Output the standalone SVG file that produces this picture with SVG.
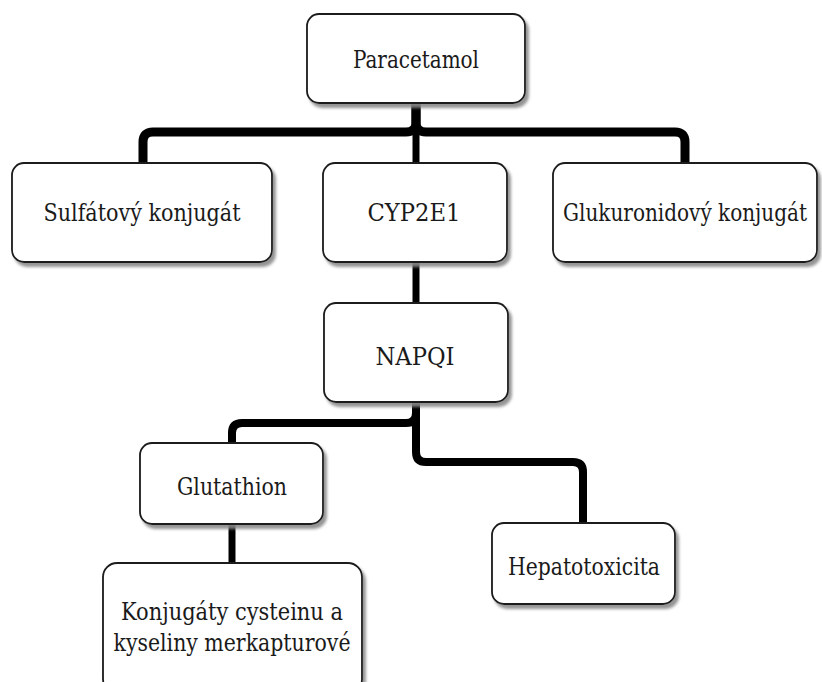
<svg xmlns="http://www.w3.org/2000/svg" width="822" height="682" viewBox="0 0 822 682">
<style>
.box{fill:#fff;stroke:#1a1a1a;stroke-width:1.8;filter:url(#sh)}
.lbl{font-family:'DejaVu Serif Condensed','DejaVu Serif',serif;font-stretch:condensed;font-size:24px;fill:#1a1a1a;text-anchor:middle}
.con{fill:none;stroke:#000;stroke-width:8;stroke-linejoin:round}
</style>
<defs>
<filter id="sh" x="-10%" y="-10%" width="130%" height="130%">
<feDropShadow dx="3" dy="4" stdDeviation="1.6" flood-color="#888" flood-opacity="0.9"/>
</filter>
</defs>
<rect width="822" height="682" fill="#fff"/>
<g id="connectors">
<path class="con" d="M416,103 V122 Q416,132 406,132 H153 Q143,132 143,142 V163" style="stroke-width:9"/>
<path class="con" d="M416,103 V122 Q416,132 426,132 H675 Q685,132 685,142 V163" style="stroke-width:9"/>
<path class="con" d="M416,103 V163" style="stroke-width:7"/>
<path class="con" d="M416,262 V303" style="stroke-width:7"/>
<path class="con" d="M416,400 V413 Q416,423 406,423 H242 Q232,423 232,433 V443"/>
<path class="con" d="M416,400 V452 Q416,462 426,462 H573 Q583,462 583,472 V523"/>
<path class="con" d="M232,525 V563" style="stroke-width:7"/>
</g>
<g id="paracetamol">
<rect class="box" x="307" y="14" width="218" height="89" rx="12"/>
<text class="lbl" x="416" y="68" textLength="126" lengthAdjust="spacingAndGlyphs">Paracetamol</text>
</g>
<g id="sulfatovy">
<rect class="box" x="12" y="163" width="260" height="99" rx="12"/>
<text class="lbl" x="142" y="221" textLength="197" lengthAdjust="spacingAndGlyphs">Sulfátový konjugát</text>
</g>
<g id="cyp2e1">
<rect class="box" x="323" y="163" width="184" height="99" rx="12"/>
<text class="lbl" x="414" y="221" textLength="93" lengthAdjust="spacingAndGlyphs">CYP2E1</text>
</g>
<g id="glukuronidovy">
<rect class="box" x="553" y="163" width="264" height="99" rx="12"/>
<text class="lbl" x="685" y="221" textLength="244" lengthAdjust="spacingAndGlyphs">Glukuronidový konjugát</text>
</g>
<g id="napqi">
<rect class="box" x="324" y="303" width="184" height="99" rx="12"/>
<text class="lbl" x="415" y="365" textLength="79" lengthAdjust="spacingAndGlyphs">NAPQI</text>
</g>
<g id="glutathion">
<rect class="box" x="140" y="443" width="183" height="81" rx="12"/>
<text class="lbl" x="232" y="495" textLength="110" lengthAdjust="spacingAndGlyphs">Glutathion</text>
</g>
<g id="hepatotoxicita">
<rect class="box" x="492" y="523" width="183" height="81" rx="12"/>
<text class="lbl" x="584" y="575" textLength="152" lengthAdjust="spacingAndGlyphs">Hepatotoxicita</text>
</g>
<g id="konjugaty">
<rect class="box" x="103" y="563" width="259" height="130" rx="14"/>
<text class="lbl" x="232" y="620" textLength="222" lengthAdjust="spacingAndGlyphs">Konjugáty cysteinu a</text>
<text class="lbl" x="232" y="651" textLength="237" lengthAdjust="spacingAndGlyphs">kyseliny merkapturové</text>
</g>
</svg>
